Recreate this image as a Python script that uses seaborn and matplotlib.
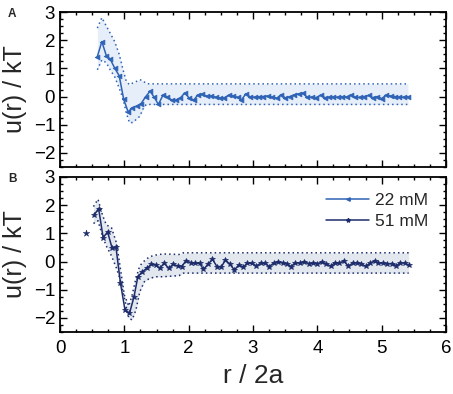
import numpy as np
import pandas as pd
import matplotlib
matplotlib.use("Agg")
import matplotlib.pyplot as plt
from matplotlib.lines import Line2D
from matplotlib.ticker import MultipleLocator
import seaborn as sns

# ---------------- data ----------------
r_22 = [0.58, 0.65, 0.72, 0.78, 0.85, 0.92, 0.99, 1.06, 1.12, 1.19, 1.26, 1.33, 1.40, 1.46,
        1.53, 1.60, 1.67, 1.74, 1.80, 1.87, 1.94, 2.01, 2.08, 2.14, 2.21, 2.28, 2.35, 2.42,
        2.48, 2.55, 2.62, 2.69, 2.76, 2.82, 2.89, 2.96, 3.03, 3.10, 3.16, 3.23, 3.30, 3.37,
        3.44, 3.50, 3.57, 3.64, 3.71, 3.78, 3.84, 3.91, 3.98, 4.05, 4.12, 4.18, 4.25, 4.32,
        4.39, 4.46, 4.52, 4.59, 4.66, 4.73, 4.80, 4.86, 4.93, 5.00, 5.07, 5.14, 5.20, 5.27,
        5.34, 5.41]
u_22 = [1.42, 1.95, 1.45, 1.33, 1.01, 0.74, -0.10, -0.55, -0.40, -0.34, -0.25, -0.01, 0.19, -0.01,
        -0.28, 0.05, -0.01, -0.13, -0.13, -0.05, 0.13, -0.06, -0.12, 0.05, 0.08, 0.02, 0.02, -0.02,
        -0.05, -0.05, 0.04, 0.03, -0.03, -0.12, 0.10, -0.02, -0.02, -0.01, 0.00, 0.02, -0.02, -0.06,
        0.07, -0.05, 0.00, 0.06, 0.10, 0.12, -0.03, -0.02, -0.04, 0.05, -0.04, -0.03, -0.02, -0.02,
        -0.01, -0.01, 0.06, -0.03, -0.03, 0.00, 0.04, -0.04, 0.00, -0.07, 0.05, 0.02, 0.00, -0.02,
        -0.02, -0.01]
rb_22 = [0.58, 0.65, 0.72, 0.78, 0.85, 0.92, 0.98, 1.03, 1.08, 1.13, 1.19, 1.24, 1.29, 1.34, 1.40, 5.41]
up_22 = [2.43, 2.80, 2.50, 2.25, 1.95, 1.50, 0.95, 0.54, 0.42, 0.48, 0.54, 0.60, 0.56, 0.46, 0.45, 0.45]
lo_22 = [0.95, 1.30, 1.20, 0.95, 0.70, 0.30, -0.08, -0.58, -0.93, -0.92, -0.80, -0.70, -0.44, -0.28, -0.28, -0.28]

r_51_first = [0.41]
u_51_first = [1.00]
r_51 = [0.53, 0.60, 0.67, 0.74, 0.81, 0.87, 0.94, 1.01, 1.08, 1.15, 1.21, 1.28, 1.35, 1.42,
        1.49, 1.55, 1.62, 1.69, 1.76, 1.83, 1.89, 1.96, 2.03, 2.10, 2.17, 2.23, 2.30, 2.37,
        2.44, 2.51, 2.57, 2.64, 2.71, 2.78, 2.85, 2.91, 2.98, 3.05, 3.12, 3.19, 3.25, 3.32,
        3.39, 3.46, 3.53, 3.59, 3.66, 3.73, 3.80, 3.87, 3.93, 4.00, 4.07, 4.14, 4.21, 4.27,
        4.34, 4.41, 4.48, 4.55, 4.61, 4.68, 4.75, 4.82, 4.89, 4.95, 5.02, 5.09, 5.16, 5.23,
        5.29, 5.36, 5.42]
u_51 = [1.65, 1.88, 0.85, 1.05, 0.47, 0.50, -0.77, -1.72, -1.84, -1.25, -0.54, -0.36, -0.24, -0.10,
        -0.13, -0.24, -0.06, -0.24, -0.10, -0.16, -0.18, 0.03, -0.04, -0.06, -0.06, -0.28, -0.10, 0.08,
        -0.18, -0.18, 0.05, -0.09, -0.30, -0.12, -0.20, -0.06, -0.06, -0.16, -0.06, -0.06, -0.18, -0.06,
        -0.01, -0.05, -0.08, -0.18, -0.04, -0.06, 0.00, -0.08, -0.04, -0.08, -0.02, -0.08, -0.17, -0.04,
        -0.06, 0.02, -0.16, -0.06, -0.04, -0.08, -0.17, -0.06, 0.02, -0.05, -0.06, -0.08, -0.07, -0.15,
        -0.04, -0.06, -0.14]
rb_51 = [0.52, 0.59, 0.66, 0.72, 0.80, 0.88, 0.93, 1.00, 1.07, 1.12, 1.18, 1.24, 1.31, 1.39, 1.49, 1.60, 1.85, 1.92, 5.42]
up_51 = [1.95, 2.21, 1.65, 1.30, 1.20, 0.64, -0.12, -1.19, -1.58, -1.20, -0.60, -0.15, 0.02, 0.17, 0.23, 0.27, 0.25, 0.31, 0.31]
lo_51 = [1.35, 1.45, 0.90, 0.55, 0.20, -0.25, -0.60, -1.30, -2.02, -2.07, -1.72, -1.07, -0.72, -0.60, -0.54, -0.54, -0.50, -0.41, -0.41]

labels = ["22 mM", "51 mM"]
panel_labels = ["A", "B"]
xticks = [0, 1, 2, 3, 4, 5, 6]
yticks = [-2, -1, 0, 1, 2, 3]

# ---------------- style ----------------
sns.set_style("ticks")
plt.rcParams["font.family"] = ["Liberation Sans", "DejaVu Sans"]

c22 = "#2f63b5"
f22 = "#e6eef9"
c51 = "#1d2c6b"
f51 = "#e3e8ef"

fig = plt.figure(figsize=(4.53, 3.94), dpi=100)
axA = fig.add_axes([0.1325, 0.5761, 0.852, 0.3934])
axB = fig.add_axes([0.1325, 0.1574, 0.852, 0.3934])


def draw(ax, rb, up, lo, r, u, color, fillc, marker, ms):
    ax.fill_between(rb, lo, up, color=fillc, lw=0, zorder=1)
    sns.lineplot(x=rb, y=up, ax=ax, color=color, lw=1.1, linestyle=(0, (1, 2)), zorder=2)
    sns.lineplot(x=rb, y=lo, ax=ax, color=color, lw=1.1, linestyle=(0, (1, 2)), zorder=2)
    sns.lineplot(x=r, y=u, ax=ax, color=color, lw=1.1, marker=marker, markersize=ms,
                 markeredgewidth=0.5, markeredgecolor=color, zorder=3)


draw(axA, rb_22, up_22, lo_22, r_22, u_22, c22, f22, "<", 3.5)
draw(axB, rb_51, up_51, lo_51, r_51, u_51, c51, f51, "*", 4.0)
sns.scatterplot(x=r_51_first, y=u_51_first, ax=axB, color=c51, marker="*", s=25,
                edgecolor=c51, linewidth=0.3, zorder=3)

for ax, pl in zip([axA, axB], panel_labels):
    ax.set_xlim(0, 6)
    ax.set_ylim(-2.5, 3)
    ax.set_xticks(xticks)
    ax.set_yticks(yticks)
    ax.xaxis.set_minor_locator(MultipleLocator(0.25))
    ax.yaxis.set_minor_locator(MultipleLocator(0.25))
    ax.tick_params(which="both", direction="in", top=True, right=True, width=1.0,
                   labelsize=13.5, colors="black")
    ax.tick_params(which="major", length=5, pad=3.5)
    ax.tick_params(which="minor", length=2.5)
    for s in ax.spines.values():
        s.set_linewidth(1.3)
        s.set_color("black")
    ax.set_ylabel("u(r) / kT", fontsize=18)
    ax.yaxis.set_label_coords(-0.085, 0.5)
    ax.set_xlabel("")
    ax.text(-0.124, 0.99, pl, transform=ax.transAxes, fontsize=8.5, fontweight="bold",
            ha="center", va="center")

axA.tick_params(labelbottom=False)
axB.tick_params(axis="x", which="major", pad=6)
axB.set_xlabel("r / 2a", fontsize=19, labelpad=5)

handles = [Line2D([0], [0], color=c22, lw=1.1, marker="<", markersize=2.5),
           Line2D([0], [0], color=c51, lw=1.1, marker="*", markersize=3)]
axB.legend(handles, labels, loc="upper left", bbox_to_anchor=(0.689, 0.895), frameon=False,
           fontsize=12.5, handlelength=2.5, handletextpad=0.3, borderpad=0, borderaxespad=0,
           labelspacing=0.3)

fig.savefig("out.png", dpi=100)
